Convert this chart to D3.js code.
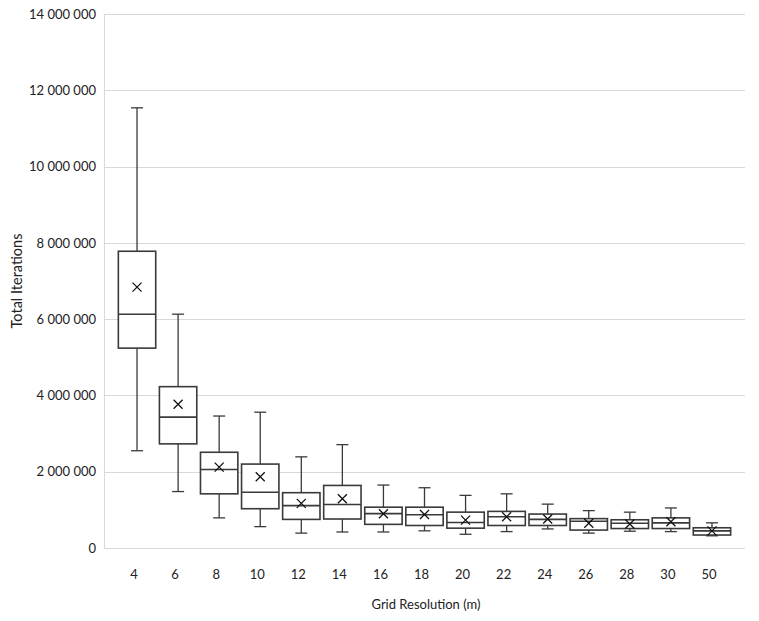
<!DOCTYPE html>
<html>
<head>
<meta charset="utf-8">
<script src="https://cdn.jsdelivr.net/npm/d3@7"></script>
<style>
  body { margin: 0; background: #fff; }
  text { font-family: Lato, "Open Sans", sans-serif; fill: #222; }
</style>
</head>
<body>
<div id="chart"></div>
<script>
// data (values in iterations)
var categories = ["4", "6", "8", "10", "12", "14", "16", "18", "20", "22", "24", "26", "28", "30", "50"];
var whiskerLow  = [2550000, 1480000, 790000, 560000, 390000, 420000, 420000, 450000, 360000, 430000, 500000, 390000, 440000, 430000, 320000];
var q1          = [5240000, 2730000, 1420000, 1030000, 750000, 760000, 620000, 590000, 520000, 590000, 590000, 470000, 510000, 510000, 340000];
var median      = [6130000, 3430000, 2060000, 1460000, 1110000, 1140000, 900000, 870000, 670000, 820000, 750000, 700000, 650000, 660000, 450000];
var q3          = [7780000, 4230000, 2510000, 2200000, 1450000, 1640000, 1070000, 1070000, 940000, 960000, 890000, 770000, 740000, 790000, 530000];
var whiskerHigh = [11540000, 6130000, 3460000, 3560000, 2390000, 2710000, 1650000, 1580000, 1380000, 1420000, 1150000, 980000, 940000, 1050000, 660000];
var mean        = [6840000, 3770000, 2120000, 1870000, 1170000, 1290000, 900000, 880000, 730000, 820000, 760000, 650000, 630000, 690000, 450000];
var yTicks = [0, 2000000, 4000000, 6000000, 8000000, 10000000, 12000000, 14000000];

var W = 759, H = 621;
var plotLeft = 104, plotRight = 745, plotTop = 14, plotBottom = 548;

var svg = d3.select("#chart").append("svg")
    .attr("width", W)
    .attr("height", H);

var boxes = categories.map(function(c, i) {
    return {cat: c, lo: whiskerLow[i], q1: q1[i], med: median[i], q3: q3[i], hi: whiskerHigh[i], mean: mean[i]};
});

var x = d3.scaleBand()
    .domain(categories)
    .range([116.5, 732.5])
    .paddingInner(0.09)
    .paddingOuter(0.045);

var y = d3.scaleLinear()
    .domain([0, 14000000])
    .range([plotBottom, plotTop]);

var fmt = function(v) { return d3.format(",")(v).replace(/,/g, " "); };

// gridlines
svg.append("g")
  .selectAll("line")
  .data(yTicks)
  .join("line")
    .attr("x1", plotLeft)
    .attr("x2", plotRight)
    .attr("y1", function(d) { return Math.round(y(d)) + 0.5; })
    .attr("y2", function(d) { return Math.round(y(d)) + 0.5; })
    .attr("stroke", "#d9d9d9")
    .attr("stroke-width", 1);

svg.append("line")
    .attr("x1", plotLeft + 0.5).attr("x2", plotLeft + 0.5)
    .attr("y1", plotTop).attr("y2", plotBottom)
    .attr("stroke", "#d9d9d9");

// y axis labels
var yAxis = d3.axisLeft(y)
    .tickValues(yTicks)
    .tickSize(0)
    .tickPadding(8)
    .tickFormat(fmt);
var gy = svg.append("g")
    .attr("transform", "translate(" + plotLeft + ",0)")
    .call(yAxis);
gy.select(".domain").remove();
gy.selectAll("text").style("font-size", "13px").style("font-family", "Lato, sans-serif").attr("fill", "#222");

// x axis labels
var xAxis = d3.axisBottom(x).tickSize(0).tickPadding(0);
var gx = svg.append("g")
    .attr("transform", "translate(-3," + (plotBottom + 22) + ")")
    .call(xAxis);
gx.select(".domain").remove();
gx.selectAll("text").style("font-size", "13px").style("font-family", "Lato, sans-serif").attr("fill", "#222");

// titles
svg.append("text")
    .attr("x", 426)
    .attr("y", 609)
    .attr("text-anchor", "middle")
    .style("font-size", "13px")
    .text("Grid Resolution (m)");

svg.append("text")
    .attr("transform", "translate(22,281) rotate(-90)")
    .attr("text-anchor", "middle")
    .style("font-size", "14.5px")
    .text("Total Iterations");

// boxes
var stroke = "#3a3a3a";
var g = svg.append("g")
  .selectAll("g")
  .data(boxes)
  .join("g");

var cx = function(d) { return x(d.cat) + x.bandwidth() / 2; };
var capW = 6;

// upper whisker
g.append("line")
    .attr("x1", cx).attr("x2", cx)
    .attr("y1", function(d) { return y(d.q3); })
    .attr("y2", function(d) { return y(d.hi); })
    .attr("stroke", stroke).attr("stroke-width", 1.3);
g.append("line")
    .attr("x1", function(d) { return cx(d) - capW; })
    .attr("x2", function(d) { return cx(d) + capW; })
    .attr("y1", function(d) { return y(d.hi); })
    .attr("y2", function(d) { return y(d.hi); })
    .attr("stroke", stroke).attr("stroke-width", 1.3);
// lower whisker
g.append("line")
    .attr("x1", cx).attr("x2", cx)
    .attr("y1", function(d) { return y(d.q1); })
    .attr("y2", function(d) { return y(d.lo); })
    .attr("stroke", stroke).attr("stroke-width", 1.3);
g.append("line")
    .attr("x1", function(d) { return cx(d) - capW; })
    .attr("x2", function(d) { return cx(d) + capW; })
    .attr("y1", function(d) { return y(d.lo); })
    .attr("y2", function(d) { return y(d.lo); })
    .attr("stroke", stroke).attr("stroke-width", 1.3);

// box
g.append("rect")
    .attr("x", function(d) { return x(d.cat); })
    .attr("width", x.bandwidth())
    .attr("y", function(d) { return y(d.q3); })
    .attr("height", function(d) { return y(d.q1) - y(d.q3); })
    .attr("fill", "#fff")
    .attr("stroke", stroke)
    .attr("stroke-width", 1.6);

// median
g.append("line")
    .attr("x1", function(d) { return x(d.cat); })
    .attr("x2", function(d) { return x(d.cat) + x.bandwidth(); })
    .attr("y1", function(d) { return y(d.med); })
    .attr("y2", function(d) { return y(d.med); })
    .attr("stroke", stroke).attr("stroke-width", 1.6);

// mean marker (x)
var m = 4.5;
g.append("path")
    .attr("d", function(d) {
        var px = cx(d), py = y(d.mean);
        return "M" + (px - m) + "," + (py - m) + "L" + (px + m) + "," + (py + m) +
               "M" + (px - m) + "," + (py + m) + "L" + (px + m) + "," + (py - m);
    })
    .attr("stroke", "#111")
    .attr("stroke-width", 1.3)
    .attr("fill", "none");
</script>
</body>
</html>
